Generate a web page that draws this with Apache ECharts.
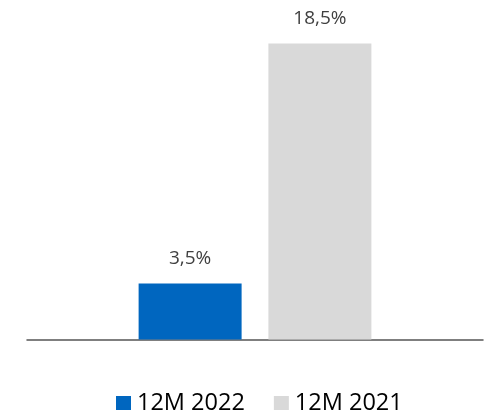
<!DOCTYPE html>
<html>
<head>
<meta charset="utf-8">
<script src="https://cdn.jsdelivr.net/npm/echarts@6/dist/echarts.min.js"></script>
<style>
  html, body { margin: 0; padding: 0; background: #fff; }
  #chart { width: 485px; height: 411px; }
</style>
</head>
<body>
<div id="chart"></div>
<script>
// data
const categories = [''];
const seriesNames = ['12M 2022', '12M 2021'];
const values2022 = [3.5];
const values2021 = [18.5];
const colors = ['#0066BF', '#D9D9D9'];

const fontFamily = '"Open Sans", "Noto Sans", sans-serif';

// 3.5 -> "3,5%"
const fmt = (p) => String(p.value).replace('.', ',') + '%';

const chart = echarts.init(document.getElementById('chart'), null, { renderer: 'canvas' });

const labelStyle = {
  show: true,
  position: 'top',
  distance: 15,
  formatter: fmt,
  color: '#404040',
  fontSize: 19,
  fontFamily: fontFamily
};

chart.setOption({
  animation: false,
  backgroundColor: '#ffffff',
  color: colors,
  grid: { left: 27, right: 2, top: 19.5, bottom: 71.5 },
  legend: {
    left: 116,
    top: 391,
    padding: 0,
    itemWidth: 15,
    itemHeight: 14,
    itemGap: 29,
    icon: 'rect',
    textStyle: { color: '#000', fontSize: 23.5, fontFamily: fontFamily, padding: [0, 0, 0, 1] },
    data: seriesNames
  },
  xAxis: {
    type: 'category',
    data: categories,
    axisTick: { show: false },
    axisLabel: { show: false },
    axisLine: { lineStyle: { color: '#555', width: 1.5 } }
  },
  yAxis: {
    type: 'value',
    min: 0,
    max: 20,
    show: false,
    splitLine: { show: false }
  },
  series: [
    {
      name: seriesNames[0],
      type: 'bar',
      data: values2022,
      barWidth: 103,
      barGap: '26%',
      label: labelStyle
    },
    {
      name: seriesNames[1],
      type: 'bar',
      data: values2021,
      barWidth: 103,
      barGap: '26%',
      label: labelStyle
    }
  ]
});
</script>
</body>
</html>
